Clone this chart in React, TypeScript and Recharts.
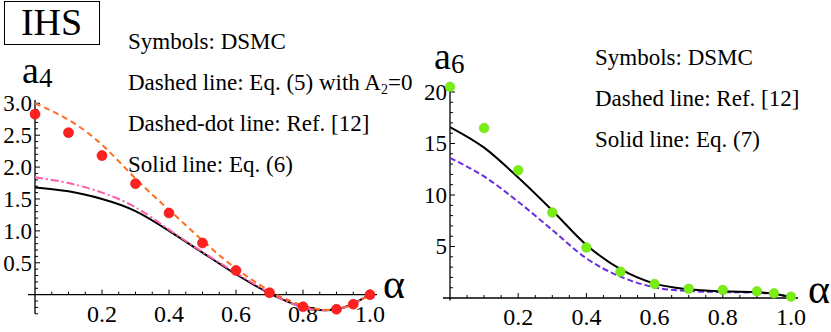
import React from 'react';
import { ComposedChart, Line, XAxis, YAxis, ReferenceLine } from 'recharts';

const FONT = '"Liberation Serif", "Times New Roman", Times, serif';

// ---- Left panel: a4 vs alpha ----
const a4Alpha = [0, 0.1, 0.2, 0.3, 0.4, 0.5, 0.6, 0.7, 0.75, 0.8, 0.85, 0.9, 0.95, 1.0];
const a4Eq5 = [3.0, 2.74, 2.35, 1.82, 1.33, 0.85, 0.41, 0.06, -0.07, -0.17, -0.23, -0.23, -0.15, 0.0];
const a4Ref12 = [1.84, 1.75, 1.6, 1.37, 1.02, 0.67, 0.34, 0.03, -0.1, -0.2, -0.24, -0.23, -0.14, 0.0];
const a4Eq6 = [1.68, 1.62, 1.5, 1.31, 1.0, 0.66, 0.32, 0.02, -0.1, -0.2, -0.24, -0.23, -0.14, 0.0];
const a4DsmcAlpha = [0, 0.1, 0.2, 0.3, 0.4, 0.5, 0.6, 0.7, 0.8, 0.9, 0.95, 1.0];
const a4Dsmc = [2.83, 2.54, 2.18, 1.74, 1.28, 0.81, 0.38, 0.03, -0.19, -0.23, -0.15, 0.0];
const a4XTicks = [0.2, 0.4, 0.6, 0.8, 1.0];
const a4XLabels = ['0.2', '0.4', '0.6', '0.8', '1.0'];
const a4XMinor = [0.05, 0.1, 0.15, 0.25, 0.3, 0.35, 0.45, 0.5, 0.55, 0.65, 0.7, 0.75, 0.85, 0.9, 0.95];
const a4YTicks = [0.5, 1.0, 1.5, 2.0, 2.5, 3.0];
const a4YLabels = ['0.5', '1.0', '1.5', '2.0', '2.5', '3.0'];
const a4YMinor = [-0.3, -0.2, -0.1, 0.1, 0.2, 0.3, 0.4, 0.6, 0.7, 0.8, 0.9, 1.1, 1.2, 1.3, 1.4, 1.6, 1.7, 1.8, 1.9, 2.1, 2.2, 2.3, 2.4, 2.6, 2.7, 2.8, 2.9];
const a4Legend = ['Symbols: DSMC', 'Dashed line: Eq. (5) with A', 'Dashed-dot line: Ref. [12]', 'Solid line: Eq. (6)'];

// ---- Right panel: a6 vs alpha ----
const a6Alpha = [0, 0.1, 0.2, 0.3, 0.4, 0.5, 0.6, 0.7, 0.8, 0.9, 0.95, 1.0];
const a6Eq7 = [16.6, 14.6, 11.7, 8.5, 5.15, 2.8, 1.4, 0.85, 0.65, 0.58, 0.4, 0.12];
const a6Ref12 = [13.6, 11.8, 9.35, 6.6, 3.85, 2.07, 1.04, 0.68, 0.58, 0.52, 0.38, 0.12];
const a6DsmcAlpha = [0, 0.1, 0.2, 0.3, 0.4, 0.5, 0.6, 0.7, 0.8, 0.9, 0.95, 1.0];
const a6Dsmc = [20.5, 16.5, 12.4, 8.3, 4.9, 2.55, 1.36, 0.9, 0.78, 0.65, 0.46, 0.13];
const a6XTicks = [0.2, 0.4, 0.6, 0.8, 1.0];
const a6XLabels = ['0.2', '0.4', '0.6', '0.8', '1.0'];
const a6XMinor = [0.05, 0.1, 0.15, 0.25, 0.3, 0.35, 0.45, 0.5, 0.55, 0.65, 0.7, 0.75, 0.85, 0.9, 0.95];
const a6YTicks = [5, 10, 15, 20];
const a6YLabels = ['5', '10', '15', '20'];
const a6YMinor = [1, 2, 3, 4, 6, 7, 8, 9, 11, 12, 13, 14, 16, 17, 18, 19];
const a6Legend = ['Symbols: DSMC', 'Dashed line: Ref. [12]', 'Solid line: Eq. (7)'];

const a4Lines = a4Alpha.map((x, i) => ({ x, eq5: a4Eq5[i], ref12: a4Ref12[i], eq6: a4Eq6[i] }));
const a4Points = a4DsmcAlpha.map((x, i) => ({ x, v: a4Dsmc[i] }));
const a6Lines = a6Alpha.map((x, i) => ({ x, eq7: a6Eq7[i], ref12: a6Ref12[i] }));
const a6Points = a6DsmcAlpha.map((x, i) => ({ x, v: a6Dsmc[i] }));

const serif = { fontFamily: FONT, fill: '#000' } as any;

const vTick = (len: number, label?: string) => (p: any) => (
  <g>
    <line x1={p.x1} y1={p.y1} x2={p.x1} y2={p.y1 - len} stroke="#000" strokeWidth={1} />
    {label ? (
      <text x={p.x1} y={p.y1 + 27} textAnchor="middle" fontSize={24} style={serif}>{label}</text>
    ) : null}
  </g>
);
const hTick = (len: number, label?: string) => (p: any) => (
  <g>
    <line x1={p.x1} y1={p.y1} x2={p.x1 + len} y2={p.y1} stroke="#000" strokeWidth={1} />
    {label ? (
      <text x={p.x1 - 3} y={p.y1} dy="0.34em" textAnchor="end" fontSize={23} style={serif}>{label}</text>
    ) : null}
  </g>
);
const xAxisShape = (p: any) => (
  <line x1={p.x1 - 7} y1={p.y1} x2={p.x2 + 7} y2={p.y2} stroke="#000" strokeWidth={1.3} />
);

function axisLines(
  xMinor: number[], xMajor: number[], xLabels: string[],
  yMinor: number[], yMajor: number[], yLabels: string[],
  yLo: number, yHi: number
) {
  const out: any[] = [];
  out.push(
    <ReferenceLine key="xa" segment={[{ x: 0, y: 0 }, { x: 1, y: 0 }]} ifOverflow="visible" shape={xAxisShape} />
  );
  out.push(
    <ReferenceLine key="ya" segment={[{ x: 0, y: yLo }, { x: 0, y: yHi }]} ifOverflow="visible" stroke="#000" strokeWidth={1.3} />
  );
  xMinor.forEach((v) =>
    out.push(<ReferenceLine key={'xm' + v} segment={[{ x: v, y: 0 }, { x: v, y: 0 }]} ifOverflow="visible" shape={vTick(3)} />)
  );
  xMajor.forEach((v, i) =>
    out.push(<ReferenceLine key={'xM' + v} segment={[{ x: v, y: 0 }, { x: v, y: 0 }]} ifOverflow="visible" shape={vTick(5, xLabels[i])} />)
  );
  yMinor.forEach((v) =>
    out.push(<ReferenceLine key={'ym' + v} segment={[{ x: 0, y: v }, { x: 0, y: v }]} ifOverflow="visible" shape={hTick(3)} />)
  );
  yMajor.forEach((v, i) =>
    out.push(<ReferenceLine key={'yM' + v} segment={[{ x: 0, y: v }, { x: 0, y: v }]} ifOverflow="visible" shape={hTick(5, yLabels[i])} />)
  );
  return out;
}

export default function App() {
  return (
    <div style={{ position: 'absolute', left: 0, top: 0, width: 831, height: 332, background: '#fff', overflow: 'hidden', fontFamily: FONT }}>
      <div style={{ position: 'absolute', left: 0, top: 0 }}>
        <ComposedChart width={420} height={332} data={a4Lines} margin={{ top: 100.1, right: 50, bottom: 18.2, left: 35 }}>
          <XAxis dataKey="x" type="number" domain={[0, 1]} hide allowDataOverflow />
          <YAxis type="number" domain={[-0.3, 3.05]} hide allowDataOverflow />
          {axisLines(a4XMinor, a4XTicks, a4XLabels, a4YMinor, a4YTicks, a4YLabels, -0.3, 3.05)}
          <Line data={a4Points} dataKey="v" stroke="none" isAnimationActive={false} activeDot={false}
            dot={{ r: 5, fill: '#ff2020', stroke: '#e01010', strokeWidth: 0.6, clipDot: false } as any} />
          <Line dataKey="eq6" type="natural" stroke="#000" strokeWidth={2} dot={false} activeDot={false} isAnimationActive={false} />
          <Line dataKey="ref12" type="natural" stroke="#ff5aa8" strokeWidth={2} strokeDasharray="8 3 2 3" dot={false} activeDot={false} isAnimationActive={false} />
          <Line dataKey="eq5" type="natural" stroke="#ff6e1e" strokeWidth={2} strokeDasharray="6 4" dot={false} activeDot={false} isAnimationActive={false} />
        </ComposedChart>
      </div>
      <div style={{ position: 'absolute', left: 420, top: 0 }}>
        <ComposedChart width={411} height={332} data={a6Lines} margin={{ top: 85.8, right: 40, bottom: 31.4, left: 30 }}>
          <XAxis dataKey="x" type="number" domain={[0, 1]} hide allowDataOverflow />
          <YAxis type="number" domain={[-0.25, 20.6]} hide allowDataOverflow />
          {axisLines(a6XMinor, a6XTicks, a6XLabels, a6YMinor, a6YTicks, a6YLabels, -0.25, 20.3)}
          <Line data={a6Points} dataKey="v" stroke="none" isAnimationActive={false} activeDot={false}
            dot={{ r: 4.8, fill: '#78ee14', stroke: '#6ad810', strokeWidth: 0.6, clipDot: false } as any} />
          <Line dataKey="ref12" type="monotone" stroke="#6a2ee0" strokeWidth={2} strokeDasharray="6 3" dot={false} activeDot={false} isAnimationActive={false} />
          <Line dataKey="eq7" type="monotone" stroke="#000" strokeWidth={2} dot={false} activeDot={false} isAnimationActive={false} />
        </ComposedChart>
      </div>
      <svg width={831} height={332} style={{ position: 'absolute', left: 0, top: 0, pointerEvents: 'none' }}>
        <rect x={4.5} y={1.5} width={95} height={43} fill="none" stroke="#000" strokeWidth={1} />
        <text x={51.5} y={35} fontSize={38} textAnchor="middle" style={serif}>IHS</text>
        <text x={22} y={83} fontSize={38} style={serif}>
          a<tspan fontSize={27} dy={4}>4</tspan>
        </text>
        <text x={434} y={68.5} fontSize={38} style={serif}>
          a<tspan fontSize={27} dy={4}>6</tspan>
        </text>
        <text x={383} y={298} fontSize={42} style={serif}>α</text>
        <text x={808} y={303} fontSize={42} style={serif}>α</text>
        <text x={128} y={49} fontSize={23} style={serif}>{a4Legend[0]}</text>
        <text x={128} y={90} fontSize={23} style={serif}>
          {a4Legend[1]}<tspan fontSize={14} dy={4}>2</tspan><tspan dy={-4}>=0</tspan>
        </text>
        <text x={128} y={131} fontSize={23} style={serif}>{a4Legend[2]}</text>
        <text x={128} y={171.7} fontSize={23} style={serif}>{a4Legend[3]}</text>
        <text x={595} y={65} fontSize={23} style={serif}>{a6Legend[0]}</text>
        <text x={595} y={106} fontSize={23} style={serif}>{a6Legend[1]}</text>
        <text x={595} y={146.7} fontSize={23} style={serif}>{a6Legend[2]}</text>
      </svg>
    </div>
  );
}
